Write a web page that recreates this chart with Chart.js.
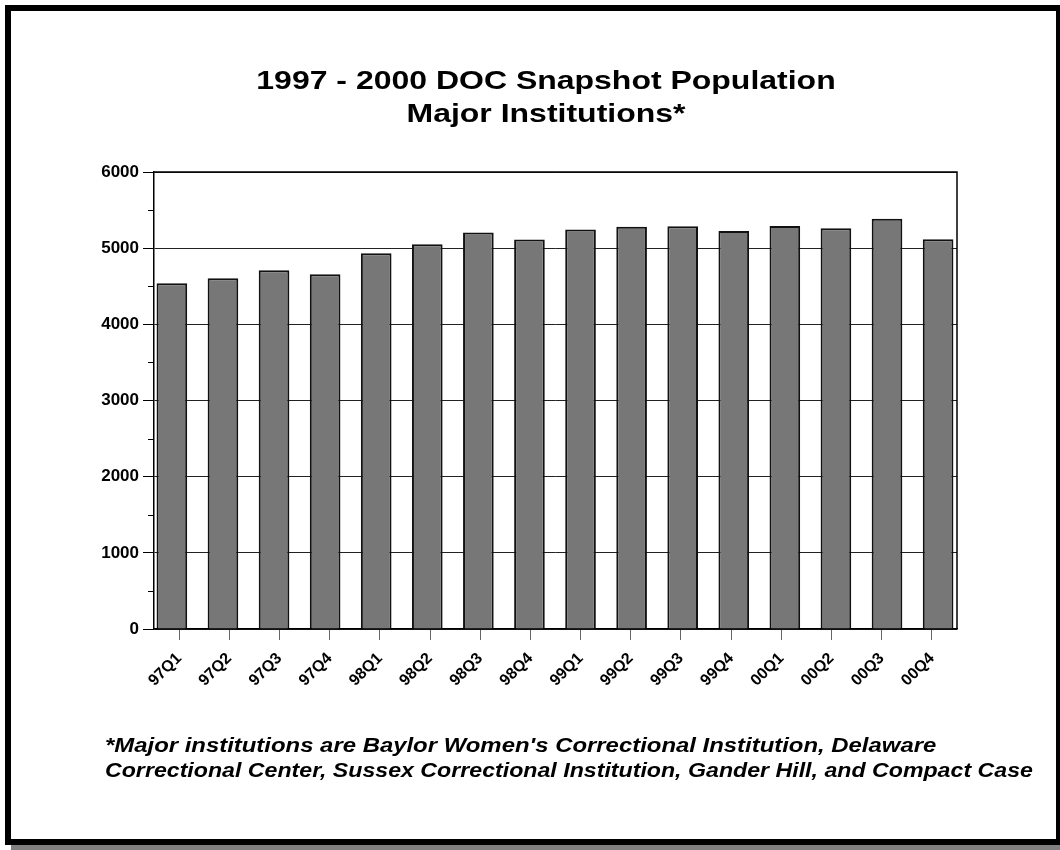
<!DOCTYPE html>
<html>
<head>
<meta charset="utf-8">
<script src="https://cdn.jsdelivr.net/npm/chart.js@4/dist/chart.umd.min.js"></script>
<style>
  html, body { margin: 0; padding: 0; background: #fff; overflow: hidden; }
  body { width: 1060px; height: 850px; position: relative; font-family: "Liberation Sans", Arial, sans-serif; }
  #frame {
    position: absolute; left: 5px; top: 5px; width: 1045px; height: 828px;
    border: 6px solid #000; background: #fff;
    box-shadow: 6px 6px 0 #808080;
  }
  #wrap { position: absolute; left: 0; top: 0; width: 1060px; height: 850px; }
  .titulo {
    position: absolute; left: 246px; width: 600px; text-align: center;
    font-weight: bold; font-size: 26px; color: #000; line-height: 33px;
    transform: scaleX(1.23); transform-origin: 50% 0;
  }
  .nota {
    position: absolute; left: 105px; font-weight: bold; font-style: italic;
    font-size: 20px; color: #000; line-height: 25px; white-space: nowrap;
    transform-origin: 0 0;
  }
</style>
</head>
<body>
<div id="frame"></div>
<div id="wrap"><canvas id="grafica"></canvas></div>
<div class="titulo" style="top:64px">1997 - 2000 DOC Snapshot Population<br>Major Institutions*</div>
<div class="nota" style="top:733px; transform: scaleX(1.195)">*Major institutions are Baylor Women's Correctional Institution, Delaware</div>
<div class="nota" style="top:758px; transform: scaleX(1.158)">Correctional Center, Sussex Correctional Institution, Gander Hill, and Compact Case</div>
<script>
const trimestres = ["97Q1", "97Q2", "97Q3", "97Q4", "98Q1", "98Q2", "98Q3", "98Q4",
                    "99Q1", "99Q2", "99Q3", "99Q4", "00Q1", "00Q2", "00Q3", "00Q4"];
const poblacion = [4540, 4605, 4710, 4658, 4934, 5053, 5205, 5113,
                   5246, 5280, 5289, 5224, 5292, 5263, 5387, 5118];
const marcasY = [0, 1000, 2000, 3000, 4000, 5000, 6000];

// ticks menores y marco del area de trazado
const marcoPlugin = {
  id: "marco",
  afterDraw(chart) {
    const ctx = chart.ctx;
    const a = chart.chartArea;
    const y = chart.scales.y;
    ctx.save();
    ctx.strokeStyle = "#000";
    ctx.lineWidth = 1.5;
    ctx.beginPath();
    ctx.moveTo(a.left, a.top);
    ctx.lineTo(a.right, a.top);
    ctx.lineTo(a.right, a.bottom);
    ctx.stroke();
    ctx.lineWidth = 1;
    for (let i = 0; i < marcasY.length - 1; i++) {
      const py = Math.round(y.getPixelForValue((marcasY[i] + marcasY[i + 1]) / 2)) + 0.5;
      ctx.beginPath();
      ctx.moveTo(a.left - 6, py);
      ctx.lineTo(a.left, py);
      ctx.stroke();
    }
    ctx.restore();
  }
};

const chart = new Chart(document.getElementById("grafica"), {
  type: "bar",
  data: {
    labels: trimestres,
    datasets: [{
      label: "Population",
      xAxisID: "xb",
      data: trimestres.map((t, i) => ({ x: i, y: poblacion[i] })),
      backgroundColor: "#777777",
      borderColor: "#111111",
      borderWidth: 2,
      barPercentage: 0.6,
      categoryPercentage: 1
    }]
  },
  options: {
    responsive: true,
    maintainAspectRatio: false,
    animation: false,
    layout: { padding: { left: 20, right: 103, top: 172, bottom: 0 } },
    plugins: {
      legend: { display: false },
      tooltip: { enabled: false }
    },
    scales: {
      xb: {
        type: "linear",
        display: false,
        offset: false,
        min: -0.35,
        max: 15.37
      },
      x: {
        type: "category",
        offset: true,
        afterFit(scale) { scale.height = 221; },
        grid: { offset: false, drawOnChartArea: false, tickLength: 11, color: "#666", tickColor: "#666" },
        border: { display: true, color: "#000", width: 1.5 },
        ticks: {
          autoSkip: false,
          maxRotation: 45,
          minRotation: 45,
          padding: 9,
          color: "#000",
          font: { family: "'Liberation Sans', Arial, sans-serif", size: 16, weight: "bold" }
        }
      },
      y: {
        min: 0,
        max: 6000,
        afterFit(scale) { scale.width = 134; },
        afterBuildTicks(scale) { scale.ticks = marcasY.map(v => ({ value: v })); },
        grid: { color: "#222", tickColor: "#000", tickLength: 11, lineWidth: 1 },
        border: { display: true, color: "#000", width: 1.5 },
        ticks: {
          padding: 4,
          color: "#000",
          callback: v => String(v),
          font: { family: "'Liberation Sans', Arial, sans-serif", size: 17, weight: "bold" }
        }
      }
    }
  },
  plugins: [marcoPlugin]
});
</script>
</body>
</html>
